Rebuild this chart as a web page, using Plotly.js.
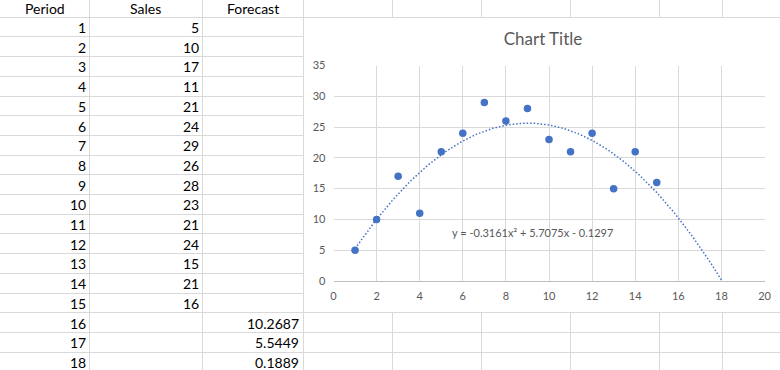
<!DOCTYPE html>
<html>
<head>
<meta charset="utf-8">
<script src="https://cdn.plot.ly/plotly-3.0.1.min.js"></script>
<style>html,body{margin:0;padding:0;background:#fff;}#chart{width:780px;height:370px;}</style>
</head>
<body>
<div id="chart"></div>
<script>
// ---- data ----
const headers = ["Period", "Sales", "Forecast"];
const periods = [1,2,3,4,5,6,7,8,9,10,11,12,13,14,15,16,17,18];
const sales = [5,10,17,11,21,24,29,26,28,23,21,24,15,21,16];
const forecastPeriods = [16,17,18];
const forecastValues = ["10.2687","5.5449","0.1889"];
const trendCoef = [-0.3161, 5.7075, -0.1297]; // a x^2 + b x + c
const trendFrom = 1, trendTo = 18;
const chartTitle = "Chart Title";
const xTickVals = [0,2,4,6,8,10,12,14,16,18,20];
const yTickVals = [0,5,10,15,20,25,30,35];

// ---- page geometry (pixels) ----
const W = 780, H = 370;
const px = v => v / W;
const py = v => 1 - v / H;
const colLines = [89, 202, 303, 392, 481, 570, 659, 722];
const rowTop = 16.7, rowH = 19.7;
const textRight = [86, 199, 299];
const headerCenter = [44.5, 145.5, 252.5];
const chartBox = {x0: 303, x1: 800, y0: 17, y1: 312.5};

const grid = '#d9d9d9';
const shapes = [];
colLines.forEach(x => shapes.push({type:'line', xref:'paper', yref:'paper', layer:'below',
  x0: px(x+0.5), x1: px(x+0.5), y0: py(-5), y1: py(H+5), line:{color:grid, width:1}}));
for (let k = 0; k <= 18; k++) {
  const y = Math.round(rowTop + rowH*k) + 0.5;
  shapes.push({type:'line', xref:'paper', yref:'paper', layer:'below',
    x0: px(-5), x1: px(W+5), y0: py(y), y1: py(y), line:{color:grid, width:1}});
}
shapes.push({type:'rect', xref:'paper', yref:'paper', layer:'below',
  x0: px(chartBox.x0+0.5), x1: px(chartBox.x1), y0: py(chartBox.y0+0.5), y1: py(chartBox.y1),
  fillcolor:'#ffffff', line:{color:grid, width:1}});

const cellFont = {family:'Lato, "Open Sans", sans-serif', size:14, color:'#000000'};
const annotations = [];
headers.forEach((h, i) => annotations.push({xref:'paper', yref:'paper', x: px(headerCenter[i]), y: py(8),
  xanchor:'center', yanchor:'middle', text:h, showarrow:false, font:cellFont}));
const rowCenter = r => rowTop + rowH*(r-0.5) + 1;
periods.forEach((p, i) => annotations.push({xref:'paper', yref:'paper', x: px(textRight[0]+2), y: py(rowCenter(i+1)),
  xanchor:'right', yanchor:'middle', text:String(p), showarrow:false, font:cellFont}));
sales.forEach((s, i) => annotations.push({xref:'paper', yref:'paper', x: px(textRight[1]+2), y: py(rowCenter(i+1)),
  xanchor:'right', yanchor:'middle', text:String(s), showarrow:false, font:cellFont}));
forecastPeriods.forEach((p, i) => annotations.push({xref:'paper', yref:'paper', x: px(textRight[2]+2),
  y: py(rowCenter(periods.indexOf(p)+1)), xanchor:'right', yanchor:'middle', text:forecastValues[i],
  showarrow:false, font:cellFont}));

const fmt = v => Math.abs(v).toFixed(4);
const sgn = v => v < 0 ? ' - ' : ' + ';
const eqText = 'y = ' + (trendCoef[0] < 0 ? '-' : '') + fmt(trendCoef[0]) + 'x²' + sgn(trendCoef[1]) + fmt(trendCoef[1]) + 'x' + sgn(trendCoef[2]) + fmt(trendCoef[2]);
annotations.push({xref:'paper', yref:'paper', x: px(532), y: py(232), xanchor:'center', yanchor:'middle',
  text: eqText, showarrow:false, font:{family:'Lato, sans-serif', size:11, color:'#595959'}});

// trendline evaluated from the displayed polynomial
const tx = [], ty = [];
for (let i = 0; i <= (trendTo - trendFrom) * 20; i++) {
  const x = trendFrom + i / 20;
  tx.push(x); ty.push(trendCoef[0]*x*x + trendCoef[1]*x + trendCoef[2]);
}

const traces = [
  {x: tx, y: ty, type:'scatter', mode:'lines', line:{color:'#4472C4', width:1.5, dash:'1.5px,2px'}, hoverinfo:'skip'},
  {x: periods.slice(0, sales.length), y: sales, type:'scatter', mode:'markers',
   marker:{color:'#4472C4', size:7.5}}
];

const tickFont = {family:'Lato, sans-serif', size:11, color:'#595959'};
const layout = {
  width: W, height: H,
  margin: {l:0, r:0, t:0, b:0},
  paper_bgcolor:'#ffffff', plot_bgcolor:'rgba(0,0,0,0)',
  showlegend:false,
  title: {text: chartTitle, x: px(543), y: py(39), xref:'paper', yref:'paper', xanchor:'center', yanchor:'middle',
          font:{family:'Lato, sans-serif', size:17, color:'#595959'}},
  xaxis: {domain:[px(333.5), px(764.5)], range:[0,20], tickvals:xTickVals, ticks:'', showgrid:true,
          gridcolor:grid, gridwidth:1, zeroline:false, showline:true, linecolor:'#bfbfbf', linewidth:1,
          tickfont:tickFont, ticklabelstandoff:5, fixedrange:true},
  yaxis: {domain:[py(281), py(65.5)], range:[0,35], tickvals:yTickVals, ticks:'', showgrid:true,
          gridcolor:grid, gridwidth:1, zeroline:false, showline:false,
          tickfont:tickFont, ticklabelstandoff:7, fixedrange:true},
  shapes: shapes,
  annotations: annotations
};
Plotly.newPlot('chart', traces, layout, {displayModeBar:false, staticPlot:true});
</script>
</body>
</html>
